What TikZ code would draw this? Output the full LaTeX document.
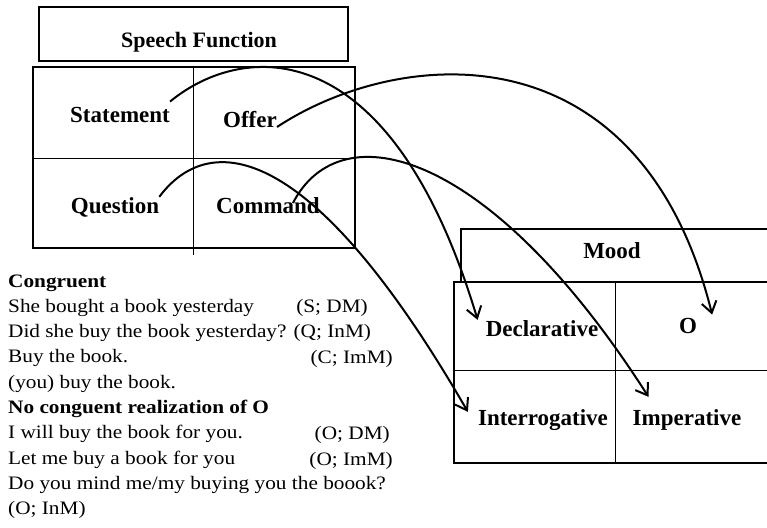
\documentclass[tikz,border=0pt]{standalone}
\usepackage{fontspec}
\setmainfont{Liberation Serif}
\newfontfamily\bodyfont[FakeStretch=1.12]{Liberation Serif}
\usetikzlibrary{arrows.meta}

\begin{document}
\begin{tikzpicture}[
    x=1pt, y=-1pt,
    every node/.style={inner sep=0pt, anchor=base},
    cell/.style={font=\fontsize{23}{23}\selectfont\bfseries},
    body/.style={font=\bodyfont\fontsize{19}{25}\selectfont, anchor=base west},
    tag/.style={font=\bodyfont\fontsize{19}{25}\selectfont, anchor=base east},
    frame/.style={line width=2.2pt},
    divider/.style={line width=1pt},
    link/.style={line width=2pt, -{Straight Barb[length=11pt,width=15pt,line width=2pt]}}
]
\clip (0,0) rectangle (767,527);

\draw[frame] (39,7) rectangle (348,61);
\draw[frame] (33,67) rectangle (355,248);
\draw[divider] (193,67) -- (193,255);
\draw[divider] (33,158) -- (355,158);
\node[cell, font=\fontsize{22}{22}\selectfont\bfseries] (sfhead) at (199,48) {Speech Function};
\node[cell] (stmt) at (120,122) {Statement};
\node[cell] (offer) at (250,127) {Offer};
\node[cell] (quest) at (115,213) {Question};
\node[cell] (cmd) at (268,213) {Command};

\draw[frame] (800,229) -| (461,282);
\draw[frame] (800,282) -| (454,463) -- (800,463);
\draw[divider] (615,282) -- (615,463);
\draw[divider] (454,370) -- (800,370);
\node[cell] (moodhead) at (612,258) {Mood};
\node[cell] (decl) at (542,336) {Declarative};
\node[cell] (omood) at (688,333) {O};
\node[cell] (interr) at (543,425) {Interrogative};
\node[cell] (imper) at (687,425) {Imperative};

\foreach \t [count=\i from 0] in {\textbf{Congruent}, She bought a book yesterday,
    Did she buy the book yesterday? (Q; InM), Buy the book., (you) buy the book.,
    \textbf{No conguent realization of O}, I will buy the book for you.,
    Let me buy a book for you, Do you mind me/my buying you the boook?, (O; InM)}
  \node[body] (line\i) at (8,287+25.3*\i) {\t};
\node[tag] (tagsd) at (368,312) {(S; DM)};
\node[tag] (tagci) at (393,363) {(C; ImM)};
\node[tag] (tagod) at (390,439) {(O; DM)};
\node[tag] (tagoi) at (393,465) {(O; ImM)};

\draw[link] ([yshift=5pt]stmt.north east) .. controls +(73,-60) and +(-87,-290) .. ([xshift=-8pt]decl.north west);
\draw[link] (offer.base east) .. controls +(123,-81) and +(-72,-289) .. ([xshift=15pt,yshift=3pt]omood.north east);
\draw[link] (quest.north east) .. controls +(50,-67) and +(-157,-272) .. ([xshift=-10pt,yshift=-3pt]interr.north west);
\draw[link] ([xshift=-27pt,yshift=10pt]cmd.base east) .. controls +(48,-93) and +(-158,-247) .. ([xshift=16pt,yshift=12pt]imper.north west);
\end{tikzpicture}
\end{document}
